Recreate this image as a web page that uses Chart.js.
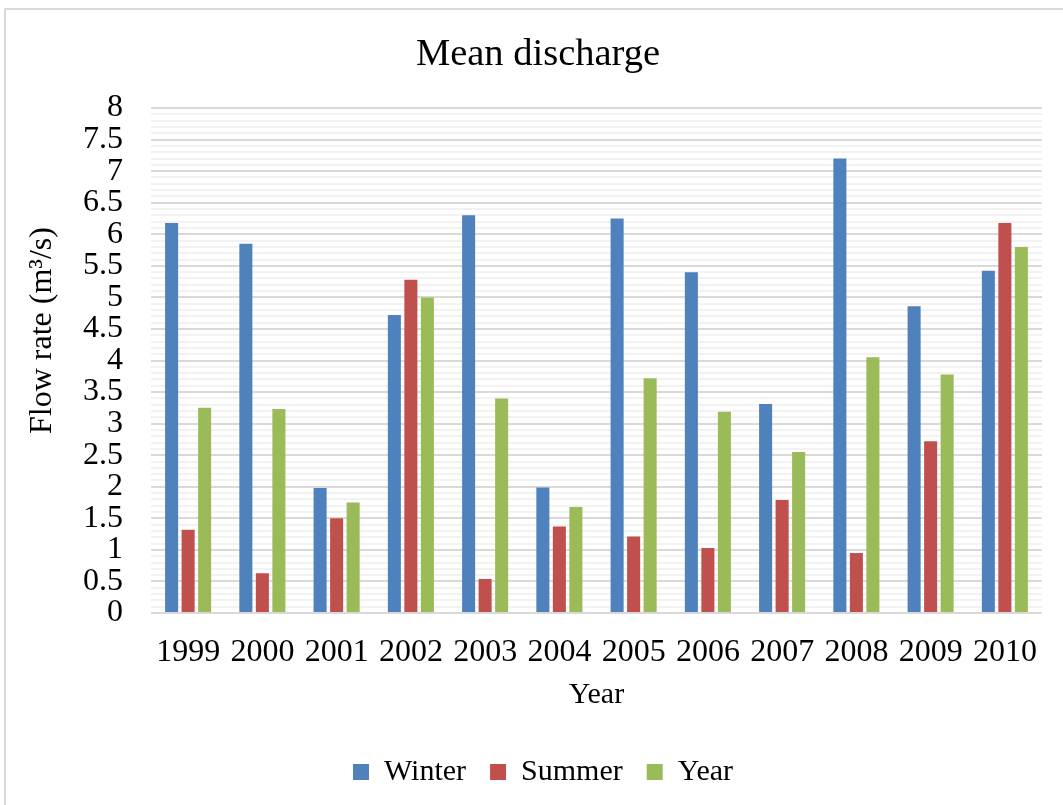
<!DOCTYPE html>
<html>
<head>
<meta charset="utf-8">
<title>Mean discharge</title>
<script src="https://cdn.jsdelivr.net/npm/chart.js@4/dist/chart.umd.min.js"></script>
<style>
  html, body { margin: 0; padding: 0; background: #ffffff; overflow: hidden; width: 1063px; height: 805px; }
  #frame { position: absolute; left: 4px; top: 8px; width: 1200px; height: 1000px; border: 2px solid #d9d9d9; box-sizing: border-box; }
  #chart { position: absolute; left: 0; top: 0; }
</style>
</head>
<body>
<div id="frame"></div>
<canvas id="chart" width="1063" height="797"></canvas>
<script>
// Years on the category axis
const years = ['1999', '2000', '2001', '2002', '2003', '2004', '2005', '2006', '2007', '2008', '2009', '2010'];

// Mean flow rate per season (m³/s)
const winter = [6.18, 5.85, 1.98, 4.72, 6.30, 1.99, 6.25, 5.40, 3.31, 7.20, 4.86, 5.42];
const summer = [1.32, 0.63, 1.50, 5.28, 0.54, 1.37, 1.21, 1.03, 1.79, 0.95, 2.72, 6.18];
const yearly = [3.25, 3.23, 1.75, 5.00, 3.40, 1.68, 3.72, 3.19, 2.55, 4.05, 3.78, 5.80];

const seriesNames = ['Winter', 'Summer', 'Year'];
const seriesColors = ['#4f81bd', '#c0504d', '#9bbb59'];

// Value axis: labels every 0.5, light minor lines every 0.1
const yMin = 0;
const yMax = 8;
const yMinorStep = 0.1;

const SERIF = '"Liberation Serif", "Times New Roman", serif';

function isMajor(v) {
  return Math.round(v * 10) % 5 === 0;
}

// Rotated value-axis caption
const yCaption = {
  id: 'yCaption',
  afterDraw(chart) {
    const ctx = chart.ctx;
    const area = chart.chartArea;
    ctx.save();
    ctx.translate(43, (area.top + area.bottom) / 2 - 30);
    ctx.rotate(-Math.PI / 2);
    ctx.font = '32px ' + SERIF;
    ctx.fillStyle = '#000000';
    ctx.textAlign = 'center';
    ctx.textBaseline = 'middle';
    ctx.fillText('Flow rate (m³/s)', 0, 0);
    ctx.restore();
  }
};

// Title and legend sit centred under the whole frame rather than the plot
const frameCentre = {
  id: 'frameCentre',
  afterLayout(chart) {
    if (chart.legend) {
      chart.legend.left += 22;
      chart.legend.right += 22;
    }
    if (chart.titleBlock) {
      chart.titleBlock.left += 17;
      chart.titleBlock.right += 17;
    }
  }
};

const values = [winter, summer, yearly];

new Chart(document.getElementById('chart'), {
  type: 'bar',
  data: {
    labels: years,
    datasets: values.map((arr, i) => ({
      label: seriesNames[i],
      data: arr,
      backgroundColor: seriesColors[i],
      borderWidth: 0,
      categoryPercentage: 0.667,
      barPercentage: 0.79
    }))
  },
  options: {
    responsive: false,
    animation: false,
    layout: { padding: { left: 0, right: 21, top: 0, bottom: 0 } },
    plugins: {
      tooltip: { enabled: false },
      title: {
        display: true,
        text: 'Mean discharge',
        color: '#000000',
        font: { family: SERIF, size: 38.5, weight: 'normal' },
        padding: { top: 32, bottom: 29.8 }
      },
      legend: {
        position: 'bottom',
        labels: {
          color: '#000000',
          font: { family: SERIF, size: 30 },
          boxWidth: 16,
          boxHeight: 16,
          padding: 24
        }
      }
    },
    scales: {
      x: {
        grid: { display: false },
        border: { display: false },
        ticks: {
          color: '#000000',
          font: { family: SERIF, size: 32 },
          padding: 12,
          maxRotation: 0,
          autoSkip: false
        },
        title: {
          display: true,
          text: 'Year',
          color: '#000000',
          font: { family: SERIF, size: 30 },
          padding: { top: 0, bottom: 20 }
        },
        afterFit(scale) { scale.height = 120; }
      },
      y: {
        min: yMin,
        max: yMax,
        border: { display: false },
        grid: {
          drawTicks: false,
          lineWidth: 2,
          color: c => isMajor(c.tick.value) ? '#d9d9d9' : '#f2f2f2'
        },
        ticks: {
          stepSize: yMinorStep,
          autoSkip: false,
          padding: 28,
          color: '#000000',
          font: { family: SERIF, size: 32 },
          callback: v => isMajor(v) ? String(Math.round(v * 10) / 10) : ''
        },
        afterFit(scale) { scale.width = 151; }
      }
    }
  },
  plugins: [yCaption, frameCentre]
});
</script>
</body>
</html>
